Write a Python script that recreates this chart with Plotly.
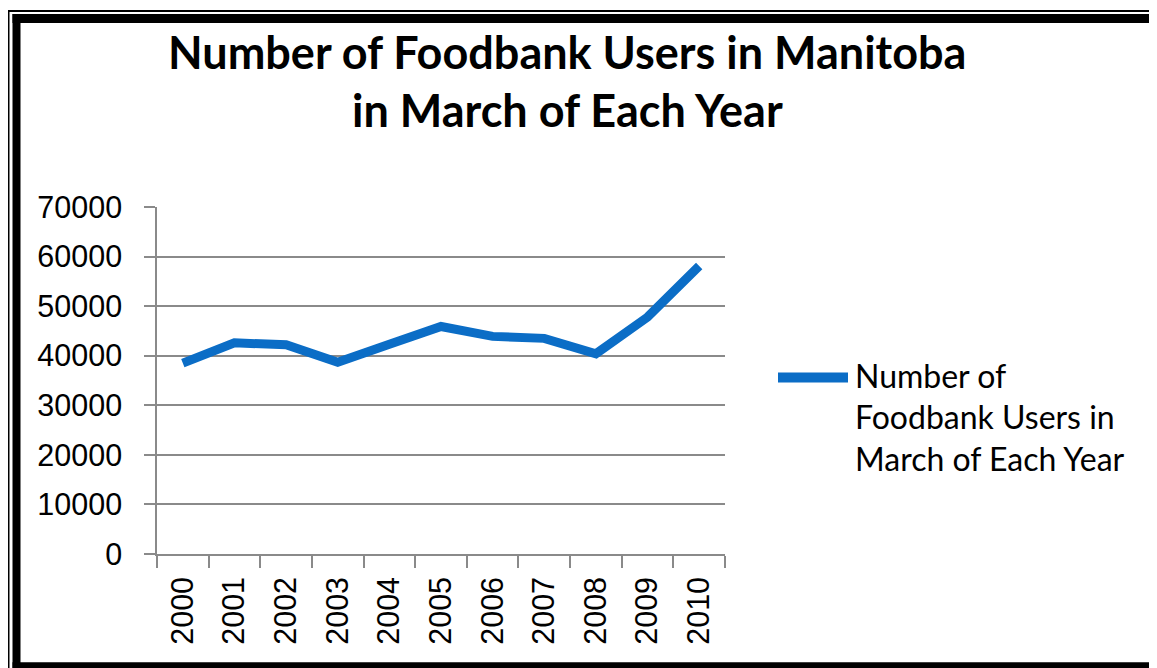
import plotly.graph_objects as go

years = ["2000", "2001", "2002", "2003", "2004", "2005", "2006", "2007", "2008", "2009", "2010"]
users = [38500, 42600, 42200, 38700, 42300, 45900, 43900, 43500, 40400, 47800, 58100]
y_ticks = [0, 10000, 20000, 30000, 40000, 50000, 60000, 70000]
series_name = "Number of Foodbank Users in March of Each Year"
title_lines = ["Number of Foodbank Users in Manitoba", "in March of Each Year"]
legend_lines = ["Number of", "Foodbank Users in", "March of Each Year"]

OFF = 8  # page body margin
W, H = 1157 - OFF, 668 - OFF
# plot area in page pixels
PL, PR, PT, PB = 157, 725, 206.5, 554.5
L, R, T, B = PL - OFF, PR - OFF, PT - OFF, PB - OFF
LINE_COLOR = "#0b6dc6"
AXIS_COLOR = "#8a8a8a"

def px(x):  # page x -> paper
    return (x - PL) / (PR - PL)

def py(y):  # page y -> paper
    return (PB - y) / (PB - PT)

fig = go.Figure()
fig.add_trace(go.Scatter(
    x=years, y=users, mode="lines", name=series_name,
    line=dict(color=LINE_COLOR, width=9), showlegend=False,
))

shapes = []
def seg(x0, y0, x1, y1, w):
    shapes.append(dict(type="line", xref="paper", yref="paper",
                       x0=px(x0), y0=py(y0), x1=px(x1), y1=py(y1),
                       line=dict(color="black", width=w), layer="above"))

# frame: thin outer line and thick inner line (right edge lies beyond the picture)
seg(8.5, 10, 1200, 10, 2)
seg(8.5, 9, 8.5, 700, 2)
seg(12.5, 17.5, 1200, 17.5, 9)
seg(16.5, 13, 16.5, 700, 8)
seg(12.5, 667.5, 1200, 667.5, 9)
# legend sample
shapes.append(dict(type="line", xref="paper", yref="paper",
                   x0=px(778), y0=py(377.5), x1=px(848), y1=py(377.5),
                   line=dict(color=LINE_COLOR, width=10)))

annotations = []
for i, t in enumerate(title_lines):
    annotations.append(dict(text="<b>%s</b>" % t, xref="paper", yref="paper",
                            x=px(567), y=py(51 + 58 * i), xanchor="center", yanchor="middle",
                            showarrow=False, font=dict(family="Lato", size=45, color="black")))
for i, t in enumerate(legend_lines):
    annotations.append(dict(text=t, xref="paper", yref="paper",
                            x=px(853), y=py(375 + 42 * i), xanchor="left", yanchor="middle",
                            showarrow=False, font=dict(family="Lato", size=32, color="black")))

fig.update_layout(
    width=W, height=H,
    margin=dict(l=L, r=W - R, t=T, b=H - B, pad=0),
    paper_bgcolor="white", plot_bgcolor="white",
    shapes=shapes, annotations=annotations,
    showlegend=False,
    xaxis=dict(type="category", range=[-0.5, 10.5], tickson="boundaries",
               ticks="outside", ticklen=12, tickcolor=AXIS_COLOR, tickwidth=1.5,
               showline=True, linecolor=AXIS_COLOR, linewidth=1.5,
               showgrid=False, tickangle=-90, ticklabelstandoff=9,
               tickfont=dict(family="Liberation Sans", size=30.5, color="black")),
    yaxis=dict(range=[0, 70000], tickvals=y_ticks, ticktext=[str(v) for v in y_ticks],
               ticks="outside", ticklen=11, tickcolor=AXIS_COLOR, tickwidth=1.5,
               showline=True, linecolor=AXIS_COLOR, linewidth=1.5,
               showgrid=True, gridcolor=AXIS_COLOR, gridwidth=1.5, zeroline=False,
               ticklabelstandoff=16,
               tickfont=dict(family="Liberation Sans", size=30.5, color="black")),
)

fig.write_html("out.html")
